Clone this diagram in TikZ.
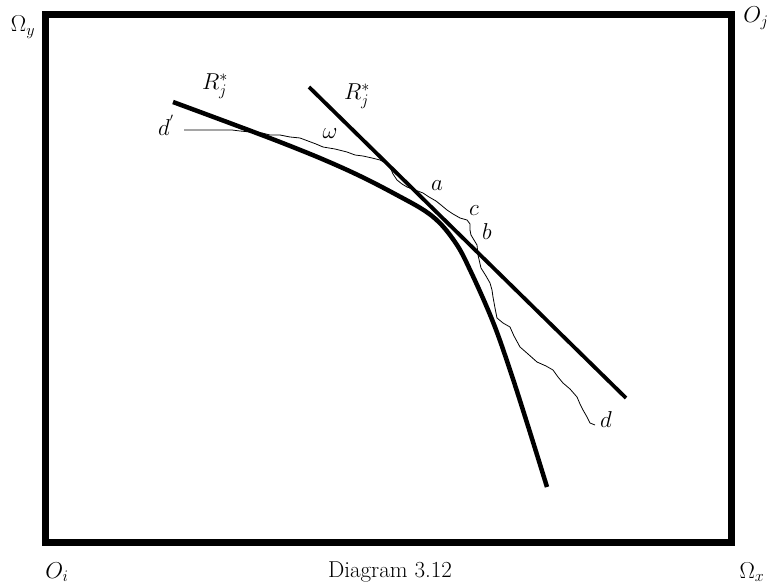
\documentclass[tikz,border=0pt]{standalone}
\usepackage{fix-cm}
\begin{document}
\begin{tikzpicture}[x=1pt,y=-1pt,
  lbl/.style={inner sep=0pt,font=\fontsize{23}{27}\selectfont},
  frame/.style={line width=7pt,line join=miter},
  thickcurve/.style={line width=4.5pt},
  tangent/.style={line width=3.8pt},
  wiggle/.style={line width=0.8pt,line join=round}]
\useasboundingbox (0,0) rectangle (771,585);
% frame
\draw[frame] (45,15) rectangle (731,542);
% corner labels
\node[lbl] (oy) at (23,27) {$\Omega_y$};
\node[lbl] (oj) at (756,18) {$O_j$};
\node[lbl] (oi) at (57,572) {$O_i$};
\node[lbl] (ox) at (752,572) {$\Omega_x$};
\node[lbl] (cap) at (390,572) {Diagram 3.12};
% curved R_j^*
\draw[thickcurve] plot[smooth,tension=0.6] coordinates {(173,102) (280,142) (345,169) (395,194) (432,216) (455,242) (471,272) (493,322) (510,370) (528,426) (547,487)};
% straight tangent R_j^*
\coordinate (t1) at (309,87);
\coordinate (t2) at (626,398);
\draw[tangent] (t1) -- (t2);
% wiggly omega path
\draw[wiggle] (184,130) -- (232,130) -- (240,131) -- (250,132) -- (262,133) -- (270,135) -- (280,135)
 -- (290,137) -- (300,138) -- (308,141) -- (316,144) -- (323,147) -- (335,149) -- (347,152) -- (355,155)
 -- (363,156) -- (372,158) -- (380,160) -- (386,163) -- (390,167) -- (393,174) -- (397,180) -- (402,184)
 -- (407,187) -- (415,190) -- (423,193) -- (429,197) -- (436,201) -- (441,205) -- (447,210) -- (453,214)
 -- (460,218) -- (467,220) -- (470,224) -- (470,230) -- (471,235) -- (477,245) -- (478,255) -- (481,268)
 -- (486,276) -- (490,283) -- (492,290) -- (493,297) -- (495,308) -- (497,318) -- (503,323) -- (510,327)
 -- (514,336) -- (520,347) -- (528,354) -- (537,362) -- (546,366) -- (553,370) -- (558,377) -- (563,383)
 -- (570,389) -- (577,397) -- (580,404) -- (583,410) -- (587,417) -- (590,423) -- (595,425);
% labels
\node[lbl] (r1) at (215,86) {$R_j^*$};
\node[lbl] (r2) at (357,96) {$R_j^*$};
\node[lbl] (dp) at (166,125) {$d^{'}$};
\node[lbl] (w) at (330,134) {$\omega$};
\node[lbl] (a) at (437,186) {$a$};
\node[lbl] (c) at (474,211) {$c$};
\node[lbl] (b) at (487,232) {$b$};
\node[lbl] (d) at (606,420) {$d$};
\end{tikzpicture}
\end{document}
